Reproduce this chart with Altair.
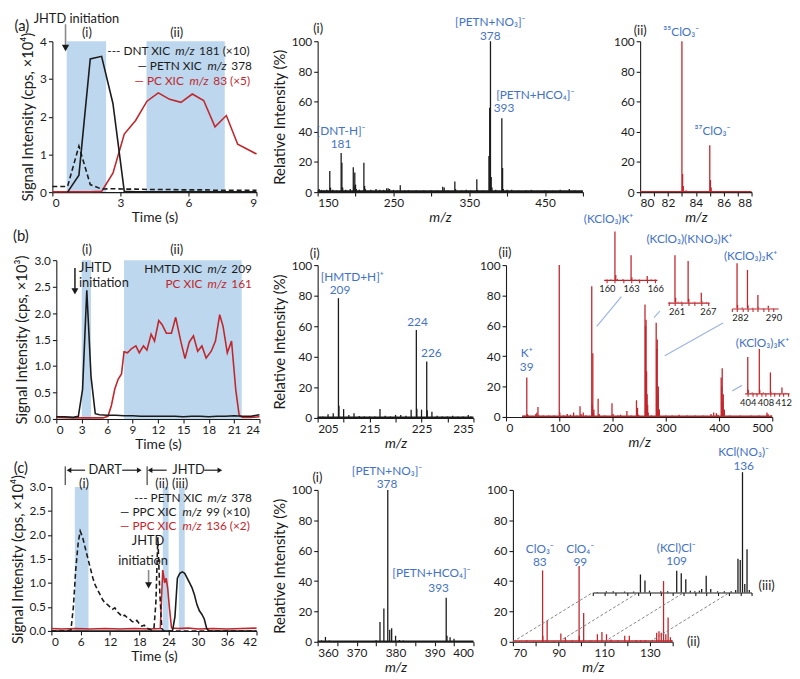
import altair as alt
import pandas as pd

FONT = "Lato"
BLUE = "#4472C4"
RED = "#C0272D"
SHADE = "#BDD7EE"
INK = "#1b1b1b"
GREY = "#8a8a8a"
LINK = "#9DB5DE"
LAB = 12

# ================= DATA =================
# (a) XIC
a_dnt_time = [0, 0.17, 0.67, 1.17, 1.67, 2.17, 2.67, 3.17, 3.67, 4.17, 4.67, 5.17, 5.67, 6.17, 6.67, 7.17, 7.67, 8.17, 8.67, 9.0]
a_dnt_sig = [0.15, 0.15, 0.15, 1.22, 0.2, 0.08, 0.09, 0.08, 0.08, 0.07, 0.07, 0.07, 0.06, 0.06, 0.06, 0.05, 0.05, 0.05, 0.05, 0.05]
a_petn_time = [0.67, 1.17, 1.67, 2.17, 2.67, 3.17, 3.67, 4.17, 5.17, 6.17, 7.17, 8.17, 9.0]
a_petn_sig = [0.0, 0.45, 3.53, 3.6, 2.35, 0.02, 0.01, 0.01, 0.01, 0.01, 0.01, 0.01, 0.01]
a_pc_time = [0, 0.67, 1.17, 1.67, 2.17, 2.67, 3.17, 3.67, 4.17, 4.67, 5.17, 5.67, 6.17, 6.67, 7.17, 7.67, 8.17, 9.0]
a_pc_sig = [0.01, 0.01, 0.01, 0.01, 0.02, 0.5, 1.54, 1.9, 2.41, 2.63, 2.46, 2.38, 2.6, 2.43, 1.73, 2.03, 1.27, 1.01]
a_windows = [(0.63, 2.37), (4.15, 7.6)]

# (a)(i) spectrum  (m/z, %)
a_i_peaks = [(152, 2), (155, 1.5), (158, 1), (162, 1.5), (166, 14), (167, 3), (170, 1.5), (175, 1),
             (181, 26), (182, 19.5), (183, 3), (187, 1.5), (193, 2), (197, 16.5), (198, 4), (199, 13),
             (200, 5), (201, 2), (205, 1.5), (211, 19.5), (212, 4), (213, 2), (220, 1.5), (227, 2),
             (232, 1.5), (237, 1.5), (241, 2.5), (243, 2.5), (245, 2), (250, 1.5), (255, 1), (259, 4.5),
             (265, 1), (270, 1.2), (280, 1), (290, 1), (300, 1), (308, 1), (315, 3.5), (317, 3), (322, 1),
             (331, 7), (332, 2), (340, 1), (346, 1.5), (352, 1), (360, 8.5), (361, 1.5), (368, 1),
             (376, 24), (377, 56), (378, 100), (379, 10), (380, 3), (385, 1.5), (393, 49), (394, 16),
             (395, 2), (400, 1.5), (406, 1.5), (415, 1), (425, 1), (432, 1.5), (440, 1), (450, 1),
             (460, 1), (470, 1.5), (482, 2), (490, 1)]
# (a)(ii) spectrum
a_ii_peaks = [(80.5, 0.3), (81.5, 0.3), (82.5, 0.4), (83.0, 100), (83.05, 12), (83.1, 4), (83.3, 1.2),
              (83.6, 0.8), (84.2, 0.6), (85.0, 31), (85.05, 8), (85.1, 3), (85.4, 0.8), (86.2, 0.4),
              (87.0, 0.3), (87.8, 0.3)]

# (b) XIC
b_hmtd_time = [0, 1, 2, 2.6, 3.1, 3.6, 4.1, 4.6, 5.1, 6, 7, 8, 9, 10, 11, 12, 13, 14, 15, 16, 17, 18, 19, 20, 21, 22, 23, 24]
b_hmtd_sig = [0.04, 0.04, 0.03, 0.05, 0.56, 2.43, 0.8, 0.1, 0.08, 0.07, 0.07, 0.06, 0.06, 0.05, 0.05, 0.05, 0.05, 0.05, 0.04, 0.05, 0.05, 0.04, 0.05, 0.05, 0.06, 0.05, 0.05, 0.08]
b_pc_time = [0, 2, 4, 5.5, 6.1, 6.5, 6.9, 7.3, 7.7, 8.0, 8.4, 8.9, 9.4, 9.8, 10.3, 10.7, 11.2, 11.6, 12.1, 12.5,
             13.0, 13.6, 14.1, 14.7, 15.2, 15.7, 16.2, 16.7, 17.2, 17.7, 18.3, 18.8, 19.3, 19.7, 20.2, 20.7,
             21.2, 21.6, 22.0, 23, 24]
b_pc_sig = [0.03, 0.02, 0.02, 0.02, 0.05, 0.25, 0.56, 0.75, 0.85, 1.27, 1.25, 1.33, 1.38, 1.25, 1.38, 1.3,
            1.6, 1.47, 1.86, 1.78, 1.62, 1.62, 1.92, 1.47, 1.14, 1.45, 1.57, 1.28, 1.38, 1.15, 1.28, 1.47,
            1.97, 1.75, 1.25, 1.47, 0.55, 0.07, 0.03, 0.03, 0.04]
b_windows = [(3.0, 4.1), (8.0, 21.9)]

# (b)(i) spectrum
b_i_peaks = [(205.5, 0.8), (206, 1), (207, 2.5), (208, 3), (209, 78.4), (209.1, 8), (210, 5.8), (211, 2),
             (212, 3), (213, 1.2), (214, 1), (215, 1), (216, 1), (217, 5.8), (218, 1.5), (219, 1), (220, 2),
             (221, 2), (222, 1.5), (223, 5.4), (224, 57.5), (224.1, 6), (225, 5.4), (226, 37), (226.1, 5),
             (227, 4), (228, 1.5), (229, 1), (230, 1), (231, 1.5), (232, 1), (233, 1), (234, 2), (234.5, 1)]
# (b)(ii) spectrum
b_ii_peaks = [(35, 1), (39, 26), (40, 2), (41, 1.5), (56, 2), (58, 3), (60, 6.5), (62, 1), (70, 1), (80, 1),
              (90, 1), (100, 100), (101, 3), (108, 1), (115, 2), (121, 1.5), (127, 3), (133, 1), (139, 7),
              (141, 2), (145, 3), (150, 1), (161, 86), (162, 8), (163, 42), (164, 3), (165, 5), (173, 12),
              (175, 2), (185, 1), (199, 9), (201, 2), (210, 1), (215, 1.5), (227, 4), (235, 1), (245, 11),
              (247, 6), (249, 1.5), (261, 74), (262, 60), (263, 64), (264, 30), (265, 15), (266, 8),
              (267, 3), (273, 1), (282, 62), (283, 45), (284, 51), (285, 15), (286, 20), (287, 4),
              (288, 5), (300, 1), (312, 1), (325, 1.5), (340, 1), (355, 1), (370, 1), (385, 2), (390, 3),
              (395, 2.5), (398, 1.5), (404, 26), (405, 20), (406, 32), (407, 10), (408, 15), (409, 3),
              (410, 5), (420, 1), (440, 1), (460, 1), (475, 1), (490, 3), (492, 2), (498, 1)]
# insets of (b)(ii), each normalised to its own tallest peak
ins1_peaks = [(160.0, 1), (160.5, 1), (161, 100), (161.1, 10), (161.3, 2), (162, 1.5), (163, 51),
              (163.1, 5), (163.5, 1), (164, 1), (165, 8), (165.5, 1), (166, 1)]
ins2_peaks = [(261.2, 1), (262, 100), (262.1, 10), (262.5, 2), (263, 2), (264, 88), (264.1, 8), (265, 2),
              (266, 21), (266.1, 3), (266.8, 1)]
ins3_peaks = [(283, 100), (283.1, 8), (284, 2), (285, 85), (285.1, 7), (286, 1.5), (287, 30), (287.1, 3),
              (288, 1), (289, 6), (290, 1)]
ins4_peaks = [(404, 82), (404.1, 8), (405, 2), (406.6, 100), (406.7, 8), (407.5, 2), (409.1, 47),
              (409.2, 4), (410, 1), (411.7, 13), (412.5, 1)]
# guide lines from main peaks towards insets, in (b)(ii) data units
b_link_x0 = [170.4, 277.8, 298.1, 424.6]
b_link_y0 = [59.7, 65.4, 40.3, 17.1]
b_link_x1 = [216.7, 288.9, 407.4, 443.1]
b_link_y1 = [79.2, 69.7, 61.9, 20.8]

# (c) XIC
c_petn_time = [0, 3.0, 4.0, 4.5, 5.0, 5.5, 5.9, 6.4, 7.0, 7.5, 8.0, 8.5, 9.0, 9.5, 10.0, 10.5, 11.0, 11.5,
               12.0, 12.5, 13.0, 13.5, 14.0, 14.5, 15.0, 15.5, 16.0, 16.5, 17.0, 17.5, 18.0, 18.5, 19.0,
               19.5, 20.0, 20.5, 21.0, 21.4, 21.8, 22.2, 22.6, 23.0, 42.0]
c_petn_sig = [0, 0, 0.02, 0.5, 1.3, 1.85, 2.08, 1.95, 1.7, 1.5, 1.3, 1.1, 0.95, 0.85, 0.75, 0.65, 0.58, 0.55,
              0.5, 0.45, 0.48, 0.4, 0.35, 0.3, 0.33, 0.28, 0.25, 0.2, 0.18, 0.22, 0.15, 0.1, 0.12, 0.06,
              0.04, 0.02, 0.05, 0.6, 1.95, 0.8, 0.05, 0, 0]
c_ppc99_time = [0, 24.8, 25.3, 25.8, 26.3, 26.8, 27.3, 27.8, 28.3, 28.8, 29.3, 29.8, 30.3, 30.8, 31.3, 31.8, 32.3, 42]
c_ppc99_sig = [0, 0, 0.3, 1.1, 1.2, 1.23, 1.2, 1.1, 1.0, 0.9, 0.75, 0.55, 0.42, 0.35, 0.25, 0.05, 0.0, 0.0]
c_ppc136_time = [0, 2, 5, 8, 11, 14, 17, 20, 22.3, 22.8, 23.2, 23.5, 23.8, 24.2, 24.6, 26, 28, 30, 33, 36, 39, 42]
c_ppc136_sig = [0.05, 0.04, 0.05, 0.04, 0.05, 0.04, 0.05, 0.04, 0.05, 1.27, 1.0, 1.1, 0.9, 0.45, 0.06, 0.05,
                0.06, 0.04, 0.05, 0.04, 0.05, 0.06]
c_windows = [(4.8, 7.6), (22.8, 24.0), (26.1, 27.3)]

# (c)(i) spectrum
c_i_peaks = [(361, 1), (362, 3.2), (363, 0.8), (364, 0.5), (366, 0.5), (368, 0.5), (370, 0.5), (372, 0.5),
             (374, 0.5), (375, 1), (376, 13), (377, 22), (378, 100), (378.5, 8), (379, 9), (380, 4),
             (381, 1.2), (382, 0.8), (383, 0.5), (385, 0.5), (390, 0.5), (393, 29), (393.2, 4), (394, 3),
             (395, 2), (396, 0.6), (398, 0.5)]
# (c)(ii) spectrum (red) and (iii) spectrum (black, own normalisation)
c_ii_peaks = [(71, 0.5), (73, 0.5), (76, 1), (79, 0.5), (83, 47), (83.1, 4), (85, 14), (88, 0.5), (91, 5.5),
              (93, 3), (96, 0.8), (99, 50), (99.1, 4), (101, 19), (104, 0.8), (107, 5), (109, 6.5),
              (111, 5), (113, 1.5), (116, 1), (119, 4), (121, 4), (124, 1), (126, 1), (128, 1), (131, 1),
              (133, 6), (134, 7), (135, 6), (136, 40), (137, 5), (138, 16), (139, 3), (139.5, 1)]
c_iii_peaks = [(72, 0.5), (76, 1), (79, 1), (84, 0.8), (88, 0.8), (91, 15), (93, 10), (95, 1.5), (100, 1),
               (103, 1), (107, 18), (109, 16), (111, 11), (113, 1.5), (115, 1), (117, 1.5), (118, 3),
               (120, 14), (122, 3), (125, 1), (128, 1), (131, 1), (133, 2), (134, 28), (135, 27),
               (136, 100), (137, 7), (138, 36), (139, 2)]
# dashed guides joining the (ii) and (iii) m/z axes
c_link_from = [70, 90, 110, 130]
c_link_shift = 35
c_link_rise = 32.5

# ================= LAYOUT HELPERS =================
OX, OY = 4, 4           # frame offset
W, H = 784, 662         # frame (plot) size


def fx(x):
    return x - OX


def fy(y):
    return y - OY


ONE = pd.DataFrame({"v": [0]})

CW = {" ": 0.28, "-": 0.36, "—": 0.82, "(": 0.32, ")": 0.32, "×": 0.6, "/": 0.4, "+": 0.6,
      "[": 0.3, "]": 0.3, ",": 0.24, ".": 0.24, "%": 0.8,
      "a": 0.52, "b": 0.58, "c": 0.48, "d": 0.58, "e": 0.54, "f": 0.35, "g": 0.54, "h": 0.58, "i": 0.25,
      "j": 0.25, "k": 0.52, "l": 0.25, "m": 0.86, "n": 0.58, "o": 0.58, "p": 0.58, "r": 0.39, "s": 0.44,
      "t": 0.37, "u": 0.58, "v": 0.52, "w": 0.78, "x": 0.52, "y": 0.52, "z": 0.47,
      "A": 0.7, "B": 0.66, "C": 0.7, "D": 0.78, "E": 0.59, "H": 0.78, "I": 0.3, "M": 0.95, "N": 0.78,
      "P": 0.62, "T": 0.6, "X": 0.67}


def tw(s, size):
    return sum(CW.get(ch, 0.6) for ch in s) * size


def txt(s, x, y, size=LAB, color=INK, align="center", style="normal"):
    return alt.Chart(ONE).mark_text(text=s, align=align, baseline="middle", fontSize=size, color=color,
                                    font=FONT, fontStyle=style).encode(x=alt.value(fx(x)), y=alt.value(fy(y)))


def rich(segs, x_right, y, size=12):
    total = sum(tw(t, size) for t, _, _ in segs)
    x = x_right - total
    out = []
    for t, style, color in segs:
        lead = len(t) - len(t.lstrip(" "))
        out.append(txt(t.strip(), x + tw(" " * lead, size), y, size, color, "left", style))
        x += tw(t, size)
    return out


def panel(xdom, x0, x1, ydom, yb, yt, xaxis=None, yaxis=None):
    xs = alt.Scale(domain=xdom, range=[fx(x0), fx(x1)], nice=False, zero=False)
    ys = alt.Scale(domain=ydom, range=[fy(yb), fy(yt)], nice=False, zero=False)
    xa = alt.Axis(orient="bottom", offset=fy(yb) - H, **xaxis) if xaxis is not None else None
    ya = alt.Axis(orient="left", offset=-fx(x0), **yaxis) if yaxis is not None else None

    def X(f="x"):
        return alt.X(f"{f}:Q", scale=xs, axis=xa)

    def Y(f="y"):
        return alt.Y(f"{f}:Q", scale=ys, axis=ya)
    return X, Y


def line(X, Y, xs, ys, color, dash=None, width=1.6):
    kw = dict(color=color, strokeWidth=width)
    if dash:
        kw["strokeDash"] = dash
    return alt.Chart(pd.DataFrame({"x": xs, "y": ys})).mark_line(**kw).encode(x=X(), y=Y())


def sticks(X, Y, pairs, color, width=1.3):
    df = pd.DataFrame({"x": [p[0] for p in pairs], "y": [p[1] for p in pairs]})
    df["y0"] = 0.0
    return alt.Chart(df).mark_rule(color=color, strokeWidth=width).encode(x=X(), y=Y("y0"), y2="y:Q")


def baseline(X, Y, x0, x1, level, color, width=1.5):
    df = pd.DataFrame({"x": [x0], "x2": [x1], "y": [level]})
    return alt.Chart(df).mark_rule(color=color, strokeWidth=width).encode(x=X(), x2="x2:Q", y=Y())


def segs(X, Y, x0, y0, x1, y1, color, dash=None, width=1.0):
    kw = dict(color=color, strokeWidth=width)
    if dash:
        kw["strokeDash"] = dash
    df = pd.DataFrame({"x": x0, "y": y0, "x2": x1, "y2": y1})
    return alt.Chart(df).mark_rule(**kw).encode(x=X(), y=Y(), x2="x2:Q", y2="y2:Q")


def heads(X, Y, xs, ys, shape, size=40, color=INK):
    return alt.Chart(pd.DataFrame({"x": xs, "y": ys})).mark_point(
        shape=shape, filled=True, size=size, color=color, opacity=1, strokeWidth=0).encode(x=X(), y=Y())


def windows(X, spans, yt, yb):
    df = pd.DataFrame({"x": [a for a, _ in spans], "x2": [b for _, b in spans]})
    return alt.Chart(df).mark_rect(color=SHADE).encode(x=X(), x2="x2:Q", y=alt.value(fy(yt)),
                                                       y2=alt.value(fy(yb)))


def inset(pairs, xdom, x0, x1, yb, yt, ticks, labelled, color=RED, labels=True):
    ax = dict(values=ticks, title=None, domainColor=color, tickColor=color, labelFontSize=9.5, tickSize=3,
              labelPadding=1, domainWidth=1.2, labelColor=INK, labels=labels)
    if labels:
        ax["labelExpr"] = "indexof(" + str(labelled) + ", datum.value) >= 0 ? datum.label : ''"
    X, Y = panel(xdom, x0, x1, [0, 100], yb, yt, xaxis=ax)
    return sticks(X, Y, pairs, color)


PCT = [0, 20, 40, 60, 80, 100]
RI = "Relative Intensity (%)"
MZ = dict(title="m/z", titleFontStyle="italic")

# ================= PANEL (a) XIC =================
XA, YA = panel([0, 9], 44, 251, [0, 4], 185, 32,
               dict(values=[0, 3, 6, 9], title="Time (s)"),
               dict(values=[0, 1, 2, 3, 4], title="Signal Intensity (cps, ×10⁴)"))
A1 = alt.layer(
    windows(XA, a_windows, 32, 185),
    line(XA, YA, a_pc_time, a_pc_sig, RED),
    line(XA, YA, a_dnt_time, a_dnt_sig, INK, [5, 3]),
    line(XA, YA, a_petn_time, a_petn_sig, INK),
    segs(XA, YA, [0.58], [4.45], [0.58], [3.86], GREY, width=1.6),
    heads(XA, YA, [0.58], [3.82], "triangle-down", 55),
    txt("(a)", 13, 17, 15),
    txt("JHTD initiation", 25, 9, 13, align="left"),
    txt("(i)", 79, 24, 13), txt("(ii)", 170, 24, 13),
    *rich([("--- DNT XIC ", "normal", INK), ("m/z", "italic", INK), (" 181 (×10)", "normal", INK)], 247, 42),
    *rich([("— PETN XIC ", "normal", INK), ("m/z", "italic", INK), (" 378", "normal", INK)], 247, 57),
    *rich([("— PC XIC ", "normal", RED), ("m/z", "italic", RED), (" 83 (×5)", "normal", RED)], 247, 72),
)

XA2, YA2 = panel([150, 500], 313, 582, [0, 100], 185, 32,
                 dict(values=list(range(150, 501, 50)), labelExpr="datum.value % 100 == 50 ? datum.label : ''",
                      titleX=fx(437), **MZ),
                 dict(values=PCT, title=RI))
A2 = alt.layer(
    baseline(XA2, YA2, 150, 500, 0.6, INK, 1.8),
    sticks(XA2, YA2, a_i_peaks, INK),
    txt("(i)", 313.5, 20, 13),
    txt("[PETN+NO₃]⁻", 488, 13, color=BLUE), txt("378", 488, 26.3, color=BLUE),
    txt("[PETN+HCO₄]⁻", 494, 87, color=BLUE, align="left"), txt("393", 502, 100, color=BLUE),
    txt("[DNT-H]⁻", 336.7, 123.5, color=BLUE), txt("181", 336.7, 136.5, color=BLUE),
)

XA3, YA3 = panel([80, 88], 640, 753, [0, 100], 185, 32,
                 dict(values=list(range(80, 89)), labelExpr="datum.value % 2 == 0 ? datum.label : ''", **MZ),
                 dict(values=PCT, title=None))
A3 = alt.layer(
    baseline(XA3, YA3, 80, 88, 0.3, RED, 1.4),
    sticks(XA3, YA3, a_ii_peaks, RED),
    txt("(ii)", 640, 22, 13),
    txt("³⁵ClO₃⁻", 681.7, 22.3, color=BLUE),
    txt("³⁷ClO₃⁻", 713.3, 123.3, color=BLUE),
)

# ================= PANEL (b) =================
XB, YB = panel([0, 24], 48, 254, [0, 3], 415, 254,
               dict(values=list(range(0, 25, 3)), title="Time (s)"),
               dict(values=[0, 0.5, 1, 1.5, 2, 2.5, 3], format=".1f", title="Signal Intensity (cps, ×10³)"))
B1 = alt.layer(
    windows(XB, b_windows, 254, 415),
    line(XB, YB, b_pc_time, b_pc_sig, RED),
    line(XB, YB, b_hmtd_time, b_hmtd_sig, INK),
    segs(XB, YB, [2.2], [2.85], [2.2], [2.45], INK, width=1.5),
    heads(XB, YB, [2.2], [2.41], "triangle-down", 50),
    txt("(b)", 12, 230, 15),
    txt("JHTD", 71, 262, 13, align="left"), txt("initiation", 71, 277, 13, align="left"),
    txt("(i)", 79, 244, 13), txt("(ii)", 170, 244, 13),
    *rich([("HMTD XIC ", "normal", INK), ("m/z", "italic", INK), (" 209", "normal", INK)], 247, 263),
    *rich([("PC XIC ", "normal", RED), ("m/z", "italic", RED), (" 161", "normal", RED)], 247, 278),
)

XB2, YB2 = panel([205, 235], 313, 471, [0, 100], 414, 259,
                 dict(values=list(range(205, 236, 5)),
                      labelExpr="(datum.value - 205) % 10 == 0 ? datum.label : ''", **MZ),
                 dict(values=PCT, title=RI))
B2 = alt.layer(
    baseline(XB2, YB2, 205, 235, 0.5, INK, 1.6),
    sticks(XB2, YB2, b_i_peaks, INK),
    txt("(i)", 310, 248, 13),
    txt("[HMTD+H]⁺", 348, 271.2, color=BLUE), txt("209", 335.7, 284.8, color=BLUE),
    txt("224", 414.3, 316.7, color=BLUE), txt("226", 428.3, 348.3, color=BLUE),
)

XB3, YB3 = panel([0, 500], 504, 774, [0, 100], 413, 259,
                 dict(values=list(range(0, 501, 100)), **MZ),
                 dict(values=PCT, title=None))
B3 = alt.layer(
    baseline(XB3, YB3, 30, 500, 0.5, RED, 1.5),
    sticks(XB3, YB3, b_ii_peaks, RED),
    segs(XB3, YB3, b_link_x0, b_link_y0, b_link_x1, b_link_y1, LINK, width=1.2),
    txt("(ii)", 503, 246.7, 13),
    txt("K⁺", 525, 347.8, color=BLUE), txt("39", 525, 362.2, color=BLUE),
    txt("(KClO₃)K⁺", 608, 212, color=BLUE),
    txt("(KClO₃)(KNO₃)K⁺", 690, 233, color=BLUE),
    txt("(KClO₃)₂K⁺", 752, 250, color=BLUE),
    txt("(KClO₃)₃K⁺", 764, 337.7, color=BLUE),
)
B_ins1 = inset(ins1_peaks, [159.6, 166.2], 603, 657, 274, 225, list(range(160, 167)), [160, 163, 166])
B_ins2 = inset(ins2_peaks, [260.9, 267.2], 668, 710, 297, 249, list(range(261, 268)), [261, 264, 267])
B_ins3 = inset(ins3_peaks, [282, 290.9], 733, 780, 303, 257, list(range(282, 291)), [282, 286, 290])
B_ins4 = inset(ins4_peaks, [403.3, 413.3], 746, 791, 389, 344, list(range(404, 414)), [404, 408, 412])

# ================= PANEL (c) =================
XC, YC = panel([0, 42], 43, 251, [0, 3], 630, 484,
               dict(values=list(range(0, 43, 6)), title="Time (s)"),
               dict(values=[0, 0.5, 1, 1.5, 2, 2.5, 3], format=".1f", title="Signal Intensity (cps, ×10⁴)"))
C1 = alt.layer(
    windows(XC, c_windows, 484, 630),
    line(XC, YC, c_ppc136_time, c_ppc136_sig, RED),
    line(XC, YC, c_ppc99_time, c_ppc99_sig, INK),
    line(XC, YC, c_petn_time, c_petn_sig, INK, [5, 3]),
    segs(XC, YC, [2.83, 19.6], [3.04, 3.04], [2.83, 19.6], [3.43, 3.43], INK, width=1.0),
    segs(XC, YC, [3.6, 14.5, 20.2, 31.3], [3.35] * 4, [6.9, 18.0, 23.6, 34.5], [3.35] * 4, INK, width=1.2),
    heads(XC, YC, [3.6, 20.2], [3.35, 3.35], "triangle-left", 30),
    heads(XC, YC, [18.0, 34.5], [3.35, 3.35], "triangle-right", 30),
    segs(XC, YC, [19.9], [1.27], [19.9], [0.97], GREY, width=1.6),
    heads(XC, YC, [19.9], [0.95], "triangle-down", 50),
    txt("(c)", 12, 465, 15),
    txt("DART", 97.5, 467, 13), txt("JHTD", 182, 467, 13),
    txt("(i)", 76, 480.7, 13), txt("(ii)", 155, 480.7, 13), txt("(iii)", 173.5, 480.7, 13),
    txt("JHTD", 141, 538.5, 13), txt("initiation", 136, 559, 13),
    *rich([("--- PETN XIC ", "normal", INK), ("m/z", "italic", INK), (" 378", "normal", INK)], 247, 495),
    *rich([("— PPC XIC ", "normal", INK), ("m/z", "italic", INK), (" 99 (×10)", "normal", INK)], 247, 509.5),
    *rich([("— PPC XIC ", "normal", RED), ("m/z", "italic", RED), (" 136 (×2)", "normal", RED)], 247, 523.5),
)

XC2, YC2 = panel([360, 400], 313, 471, [0, 100], 641, 487,
                 dict(values=list(range(360, 401, 5)), labelExpr="datum.value % 10 == 0 ? datum.label : ''", **MZ),
                 dict(values=PCT, title=RI))
C2 = alt.layer(
    baseline(XC2, YC2, 360, 400, 0.4, INK, 1.4),
    sticks(XC2, YC2, c_i_peaks, INK),
    txt("(i)", 312.7, 475, 13),
    txt("[PETN+NO₃]⁻", 383.3, 468, color=BLUE), txt("378", 383.3, 481, color=BLUE),
    txt("[PETN+HCO₄]⁻", 428.3, 571.2, color=BLUE), txt("393", 435.7, 586, color=BLUE),
)

XC3, YC3 = panel([70, 140], 511, 673, [0, 100], 641, 487,
                 dict(values=list(range(70, 141, 10)),
                      labelExpr="(datum.value - 70) % 20 == 0 ? datum.label : ''", **MZ),
                 dict(values=PCT, title=None))
C3 = alt.layer(
    baseline(XC3, YC3, 70, 140, 0.5, RED, 1.5),
    sticks(XC3, YC3, c_ii_peaks, RED),
    segs(XC3, YC3, c_link_from, [0] * 4, [v + c_link_shift for v in c_link_from], [c_link_rise] * 4,
         "#777777", dash=[3, 2], width=0.9),
    txt("ClO₃⁻", 538.3, 546.5, color=BLUE), txt("83", 538.3, 560, color=BLUE),
    txt("ClO₄⁻", 579.3, 546.5, color=BLUE), txt("99", 579.3, 560, color=BLUE),
    txt("(KCl)Cl⁻", 676.7, 545.5, color=BLUE), txt("109", 677, 559, color=BLUE),
    txt("KCl(NO₃)⁻", 745, 449, color=BLUE), txt("136", 745, 462.5, color=BLUE),
    txt("(iii)", 768.3, 584, 13), txt("(ii)", 694, 641.7, 13),
)
C_iii = inset(c_iii_peaks, [70, 140], 592, 753, 591, 469, list(range(70, 141, 5)), [], color=INK, labels=False)

chart = alt.layer(
    A1, A2, A3, B1, B2, B3, B_ins1, B_ins2, B_ins3, B_ins4, C1, C2, C3, C_iii
).resolve_scale(x="independent", y="independent").resolve_axis(x="independent", y="independent").properties(
    width=W, height=H, padding={"left": 2, "top": 0, "right": 0, "bottom": 0}
).configure_view(stroke=None).configure_axis(
    grid=False, domainColor=INK, tickColor=INK, labelColor=INK, titleColor=INK, labelFont=FONT,
    titleFont=FONT, labelFontSize=12, titleFontSize=14, titleFontWeight="normal", tickSize=4,
    domainWidth=1.1, tickWidth=1.1, labelPadding=2
).configure_axisX(titlePadding=2).configure_axisY(titleFontSize=15, titlePadding=4)

chart.save("out.html", embed_options={"renderer": "svg", "actions": False})
